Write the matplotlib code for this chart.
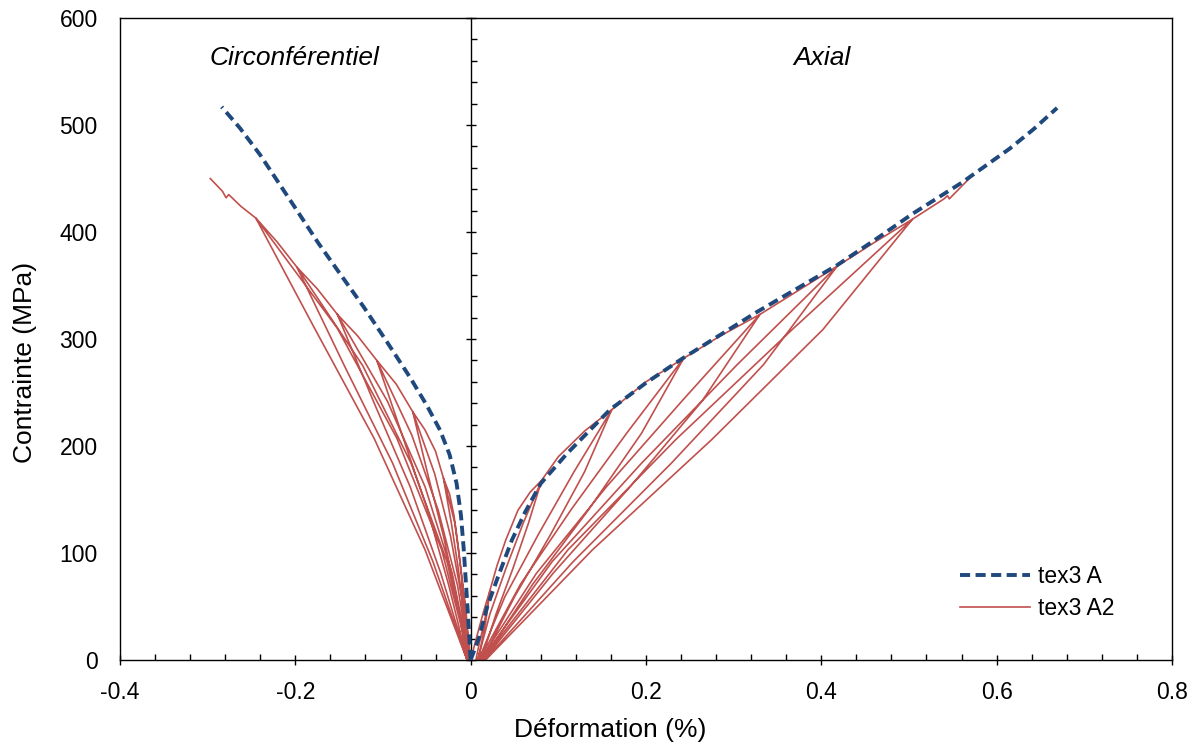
import matplotlib
matplotlib.use('Agg')
from matplotlib import pyplot as plt
from matplotlib.ticker import MultipleLocator, FormatStrFormatter

plt.rcParams['font.family'] = ['Liberation Sans', 'DejaVu Sans']

# monotonic test (tex3 A), axial and circumferential branches
mono_axial_strain = [0, 0.010, 0.019, 0.030, 0.047, 0.062, 0.080, 0.110, 0.159, 0.200, 0.242,
                     0.285, 0.326, 0.372, 0.418, 0.460, 0.504, 0.560, 0.615, 0.642, 0.669]
mono_axial_stress = [0, 22, 50, 75, 112, 138, 165, 193, 234, 259, 282,
                     304, 325, 347, 369, 392, 417, 446, 478, 496, 516]

mono_circ_strain = [0, -0.002, -0.004, -0.006, -0.008, -0.011, -0.016, -0.024, -0.035, -0.050,
                    -0.069, -0.096, -0.122, -0.149, -0.174, -0.198, -0.219, -0.240, -0.263, -0.284]
mono_circ_stress = [0, 28, 55, 80, 105, 135, 165, 192, 215, 238,
                    264, 298, 330, 361, 390, 420, 446, 472, 497, 517]

# cyclic test (tex3 A2), axial branch in acquisition order
cyc_axial_strain = [
    0, 0.008, 0.015, 0.022,
    0.019, 0.015, 0.010, 0.006, 0.009, 0.013, 0.017, 0.020, 0.022,
    0.030, 0.040, 0.054, 0.068, 0.081,
    0.060, 0.040, 0.022, 0.008, 0.012, 0.029, 0.048, 0.066, 0.081,
    0.100, 0.130, 0.161,
    0.118, 0.077, 0.039, 0.009, 0.013, 0.050, 0.091, 0.130, 0.161,
    0.200, 0.243,
    0.178, 0.115, 0.057, 0.010, 0.014, 0.071, 0.135, 0.195, 0.243,
    0.285, 0.330,
    0.241, 0.155, 0.075, 0.011, 0.015, 0.094, 0.182, 0.264, 0.330,
    0.375, 0.418,
    0.304, 0.195, 0.093, 0.012, 0.016, 0.117, 0.229, 0.334, 0.418,
    0.460, 0.504,
    0.367, 0.234, 0.111, 0.013, 0.017, 0.139, 0.275, 0.402, 0.504,
    0.540, 0.544, 0.546, 0.570]
cyc_axial_stress = [
    0, 25, 46, 65,
    50, 33, 16, 0, 2, 18, 35, 52, 65,
    88, 112, 140, 157, 168,
    128, 85, 43, 0, 0, 43, 85, 128, 168,
    190, 214, 234,
    176, 117, 59, 0, 0, 59, 117, 176, 234,
    260, 282,
    212, 141, 71, 0, 0, 71, 141, 212, 282,
    303, 323,
    242, 162, 81, 0, 0, 81, 162, 242, 323,
    346, 368,
    276, 184, 92, 0, 0, 92, 184, 276, 368,
    390, 412,
    309, 206, 103, 0, 0, 103, 206, 309, 412,
    431, 434, 431, 451]

# cyclic test (tex3 A2), circumferential branch
cyc_circ_strain = [
    0, -0.004, -0.007, -0.010,
    -0.008, -0.006, -0.004, -0.003, -0.002, -0.004, -0.006, -0.008, -0.010,
    -0.014, -0.019, -0.024, -0.031,
    -0.022, -0.014, -0.008, -0.003, -0.001, -0.005, -0.011, -0.018, -0.031,
    -0.040, -0.052, -0.066,
    -0.049, -0.031, -0.016, -0.004, -0.001, -0.010, -0.023, -0.041, -0.066,
    -0.085, -0.107,
    -0.078, -0.049, -0.025, -0.004, -0.001, -0.015, -0.037, -0.067, -0.107,
    -0.129, -0.152,
    -0.111, -0.069, -0.034, -0.004, -0.001, -0.021, -0.052, -0.095, -0.152,
    -0.175, -0.198,
    -0.144, -0.089, -0.043, -0.004, -0.001, -0.027, -0.068, -0.123, -0.198,
    -0.221, -0.245,
    -0.178, -0.110, -0.052, -0.004, -0.001, -0.033, -0.084, -0.152, -0.245,
    -0.262, -0.276, -0.279, -0.283, -0.297]
cyc_circ_stress = [
    0, 30, 55, 75,
    55, 35, 15, 0, 0, 20, 40, 58, 75,
    105, 135, 155, 170,
    128, 85, 43, 0, 0, 43, 85, 128, 170,
    195, 215, 232,
    174, 116, 58, 0, 0, 58, 116, 174, 232,
    258, 280,
    210, 140, 70, 0, 0, 70, 140, 210, 280,
    303, 323,
    242, 162, 81, 0, 0, 81, 162, 242, 323,
    347, 367,
    275, 184, 92, 0, 0, 92, 184, 275, 367,
    391, 413,
    310, 207, 103, 0, 0, 103, 207, 310, 413,
    424, 435, 432, 438, 450]

blue = '#1F497D'
red = '#C0504D'

fig = plt.figure(figsize=(12.01, 7.55), dpi=100)
ax = fig.add_axes([0.0999, 0.1258, 0.8759, 0.8503])

ax.plot(cyc_axial_strain, cyc_axial_stress, color=red, lw=1.2, label='tex3 A2', zorder=2)
ax.plot(cyc_circ_strain, cyc_circ_stress, color=red, lw=1.2, zorder=2)
ax.plot(mono_axial_strain, mono_axial_stress, color=blue, lw=2.8, dashes=(2.6, 1.4),
        label='tex3 A', zorder=3)
ax.plot(mono_circ_strain, mono_circ_stress, color=blue, lw=2.8, dashes=(2.6, 1.4), zorder=3)

ax.set_xlim(-0.4, 0.8)
ax.set_ylim(0, 600)

for s in ax.spines.values():
    s.set_linewidth(1.0)

# x axis: major ticks cross the axis, minor ticks inside
ax.xaxis.set_major_locator(MultipleLocator(0.2))
ax.xaxis.set_minor_locator(MultipleLocator(0.04))
ax.xaxis.set_major_formatter(FormatStrFormatter('%g'))
ax.tick_params(axis='x', which='major', direction='inout', length=7.5, width=1,
               labelsize=16.5, pad=11)
ax.tick_params(axis='x', which='minor', direction='in', length=4.5, width=1)

# y labels on the left frame, no tick marks there
ax.yaxis.set_major_locator(MultipleLocator(100))
ax.tick_params(axis='y', which='major', length=0, labelsize=16.5, pad=16)

# y axis drawn at zero strain
yaxis0 = ax.secondary_yaxis(1 / 3)
yaxis0.spines['left'].set_linewidth(1.0)
yaxis0.yaxis.set_major_locator(MultipleLocator(100))
yaxis0.yaxis.set_minor_locator(MultipleLocator(20))
yaxis0.tick_params(which='major', direction='inout', length=7.5, width=1, labelleft=False)
yaxis0.tick_params(which='minor', direction='in', length=4.5, width=1)

ax.set_xlabel('Déformation (%)', fontsize=19)
ax.set_ylabel('Contrainte (MPa)', fontsize=19)
ax.xaxis.set_label_coords(0.466, -0.090)
ax.yaxis.set_label_coords(-0.079, 0.464)

ax.text(0.166, 0.938, 'Circonférentiel', transform=ax.transAxes, fontsize=19,
        style='italic', ha='center', va='center')
ax.text(0.667, 0.938, 'Axial', transform=ax.transAxes, fontsize=19,
        style='italic', ha='center', va='center')

handles, labels = ax.get_legend_handles_labels()
ax.legend(handles[::-1], labels[::-1], loc='upper left', bbox_to_anchor=(0.79, 0.163),
          frameon=False, fontsize=16.5, handlelength=3.05, handletextpad=0.35,
          labelspacing=0.42, borderaxespad=0)

fig.savefig('out.png', dpi=100)
